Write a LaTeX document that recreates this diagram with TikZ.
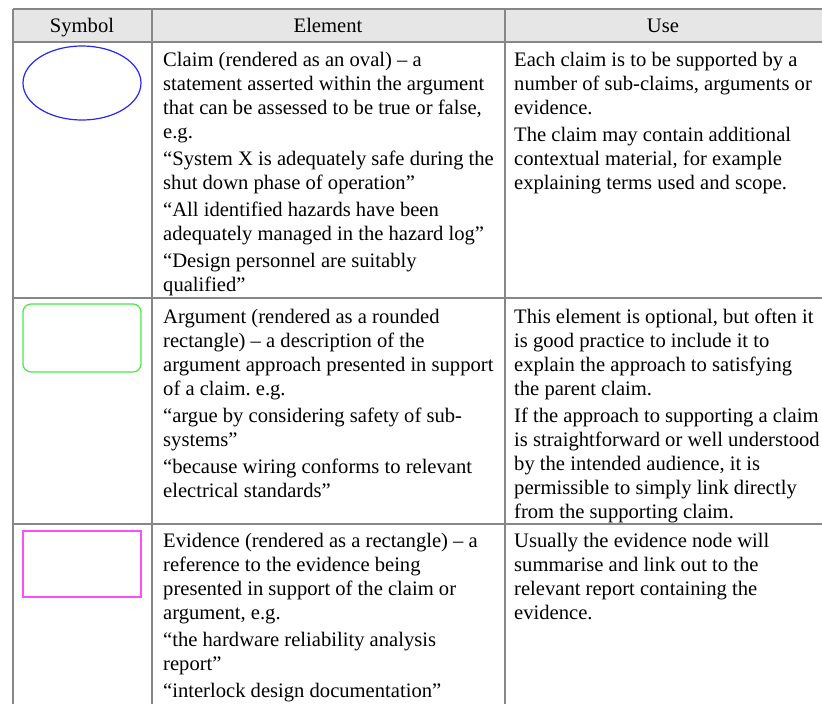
\documentclass[tikz,border=0pt]{standalone}
\usepackage{fontspec}
\setmainfont{Liberation Serif}
\definecolor{ruleGrey}{RGB}{135,135,135}
\definecolor{headGrey}{RGB}{230,230,230}
\definecolor{claimBlue}{RGB}{40,40,245}
\definecolor{argGreen}{RGB}{70,235,70}
\definecolor{evMagenta}{RGB}{250,80,250}
\begin{document}
\begin{tikzpicture}[x=1pt,y=-1pt,
  rule/.style={draw=ruleGrey, line width=1.5pt},
  txt/.style={inner sep=0pt, font=\fontsize{20.6}{24}\selectfont, text=black},
  cell/.style={txt, anchor=north west, align=left},
  head/.style={txt, anchor=base},
  symb/.style={line width=1.2pt}]
\useasboundingbox (0,0) rectangle (822,704);
\fill[white] (0,0) rectangle (822,704);

% header band
\fill[headGrey] (13,9) rectangle (822,42);

% grid
\draw[rule] (13,9) -- (822,9);
\draw[rule] (13,42) -- (822,42);
\draw[rule] (13,298) -- (822,298);
\draw[rule] (13,524) -- (822,524);
\draw[rule] (13,9) -- (13,704);
\draw[rule] (152,9) -- (152,704);
\draw[rule] (505,9) -- (505,704);

% header labels
\node[head] (hSym) at (82,32.5) {Symbol};
\node[head] (hEl) at (328,32.5) {Element};
\node[head] (hUse) at (663,32.5) {Use};

% symbols
\draw[symb, claimBlue] (82,83) ellipse [x radius=59, y radius=37];
\draw[symb, argGreen, rounded corners=8pt] (23,304) rectangle (141,372);
\draw[symb, evMagenta] (23,531) rectangle (141,597);

% row 1: claim
\node[cell] (claimEl) at (163,49.5) {\strut Claim (rendered as an oval) – a\\
statement asserted within the argument\\
that can be assessed to be true or false,\\
e.g.\\[3pt]
“System X is adequately safe during the\\
shut down phase of operation”\\[3pt]
“All identified hazards have been\\
adequately managed in the hazard log”\\[3pt]
“Design personnel are suitably\\
qualified”};
\node[cell] (claimUse) at (514,49.5) {\strut Each claim is to be supported by a\\
number of sub-claims, arguments or\\
evidence.\\[3pt]
The claim may contain additional\\
contextual material, for example\\
explaining terms used and scope.};

% row 2: argument
\node[cell] (argEl) at (163,306) {\strut Argument (rendered as a rounded\\
rectangle) – a description of the\\
argument approach presented in support\\
of a claim.\ e.g.\\[3pt]
“argue by considering safety of sub-\\
systems”\\[3pt]
“because wiring conforms to relevant\\
electrical standards”};
\node[cell] (argUse) at (514,306) {\strut This element is optional, but often it\\
is good practice to include it to\\
explain the approach to satisfying\\
the parent claim.\\[3pt]
If the approach to supporting a claim\\
is straightforward or well understood\\
by the intended audience, it is\\
permissible to simply link directly\\
from the supporting claim.};

% row 3: evidence
\node[cell] (evEl) at (163,530) {\strut Evidence (rendered as a rectangle) – a\\
reference to the evidence being\\
presented in support of the claim or\\
argument, e.g.\\[3pt]
“the hardware reliability analysis\\
report”\\[3pt]
“interlock design documentation”};
\node[cell] (evUse) at (514,530) {\strut Usually the evidence node will\\
summarise and link out to the\\
relevant report containing the\\
evidence.};
\end{tikzpicture}
\end{document}
